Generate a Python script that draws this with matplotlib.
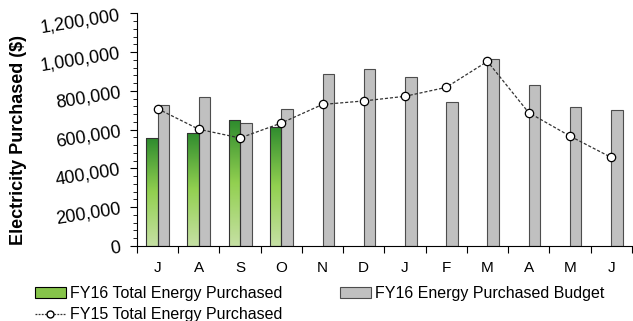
import matplotlib.pyplot as plt
import numpy as np
from matplotlib.colors import LinearSegmentedColormap
from matplotlib.patches import Patch
from matplotlib.lines import Line2D

plt.rcParams['font.family'] = ['Liberation Sans', 'DejaVu Sans']

months = ['J', 'A', 'S', 'O', 'N', 'D', 'J', 'F', 'M', 'A', 'M', 'J']
fy16_actual = [555000, 583000, 648000, 615000]
fy16_budget = [725000, 766000, 634000, 708000, 887000, 911000, 873000,
               744000, 963000, 830000, 715000, 700000]
fy15_actual = [708000, 602000, 557000, 634000, 730000, 748000, 772000,
               818000, 952000, 688000, 567000, 457000]

green_cmap = LinearSegmentedColormap.from_list('g', ['#c6e0a4', '#92d050', '#2e8b2e'])

fig = plt.figure(figsize=(6.33, 3.21), dpi=100)
ax = fig.add_axes([0.2164, 0.2336, 0.7816, 0.725])

x = np.arange(len(months))
w = 0.28

# gradient green bars
bars = ax.bar(x[:len(fy16_actual)] - w / 2, fy16_actual, width=w,
              facecolor='none', edgecolor='#333333', linewidth=0.8, zorder=3)
grad = np.linspace(0, 1, 256).reshape(-1, 1)
for b in bars:
    bx, by = b.get_x(), b.get_y()
    im = ax.imshow(grad, cmap=green_cmap, aspect='auto', origin='lower',
                   extent=[bx, bx + b.get_width(), by, by + b.get_height()],
                   zorder=2)
    im.set_clip_path(b)

ax.bar(x + w / 2, fy16_budget, width=w, color='#c0c0c0',
       edgecolor='#4d4d4d', linewidth=0.8, zorder=2)

ax.plot(x, fy15_actual, linestyle=(0, (2.5, 1.5)), color='#333333', linewidth=0.9,
        marker='o', markersize=6, markerfacecolor='white',
        markeredgecolor='black', markeredgewidth=0.9, zorder=4)

ax.set_xlim(-0.5, len(months) - 0.5)
ax.set_ylim(0, 1200000)

ax.set_xticks(np.arange(-0.5, len(months), 1.0))
ax.set_xticklabels([])
ax.set_xticks(x, minor=True)
ax.set_xticklabels(months, minor=True, fontsize=11)
ax.tick_params(axis='x', which='minor', length=0, pad=11)
ax.tick_params(axis='x', which='major', length=5, direction='out')

ax.set_yticks(np.arange(0, 1200001, 200000))
ax.set_yticklabels(['{:,}'.format(v) for v in range(0, 1200001, 200000)],
                   rotation=9, fontsize=13)
ax.set_yticks(np.arange(0, 1200001, 40000), minor=True)
ax.tick_params(axis='y', which='major', length=5, direction='out', pad=6)
ax.tick_params(axis='y', which='minor', length=3, direction='out')

ax.spines['top'].set_visible(False)
ax.spines['right'].set_visible(False)
ax.set_ylabel('Electricity Purchased ($)', fontsize=13, fontweight='bold')
ax.yaxis.set_label_coords(-0.222, 0.457)

handles = [
    Patch(facecolor='#86c44a', edgecolor='black', linewidth=0.8),
    Line2D([], [], linestyle=(0, (1.5, 1)), color='#333333', linewidth=0.9,
           marker='o', markersize=5, markerfacecolor='white', markeredgecolor='black'),
    Patch(facecolor='#c0c0c0', edgecolor='#4d4d4d', linewidth=0.8),
]
labels = ['FY16 Total Energy Purchased', 'FY15 Total Energy Purchased',
          'FY16 Energy Purchased Budget']
fig.legend(handles, labels, ncol=2, loc='upper left', bbox_to_anchor=(0.055, 0.11),
           frameon=False, fontsize=11.5, handlelength=1.95, handletextpad=0.25,
           columnspacing=3.6, labelspacing=0.42, borderaxespad=0, borderpad=0)

fig.savefig('out.png', dpi=100)
